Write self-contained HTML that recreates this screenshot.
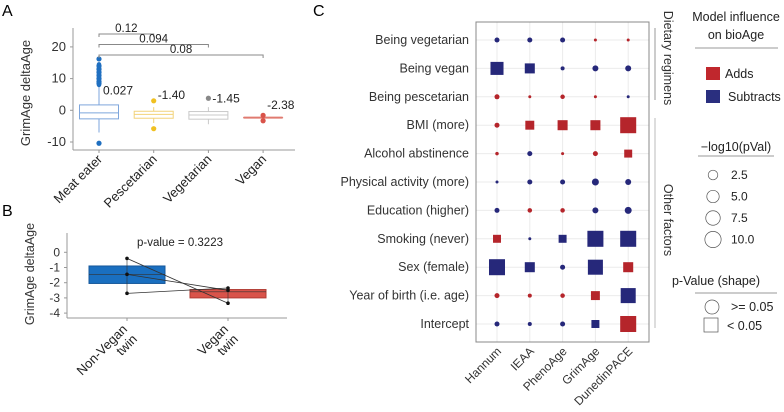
<!DOCTYPE html>
<html><head><meta charset="utf-8"><style>
body{margin:0;background:#fff}
svg{display:block;font-family:"Liberation Sans",sans-serif}
</style></head><body>
<svg id="fig" width="784" height="412" viewBox="0 0 784 412">
<text x="2" y="16" font-size="16">A</text>
<text x="2" y="216" font-size="16">B</text>
<text x="313" y="16" font-size="16">C</text>
<g id="pa"></g>
<g id="pb"></g>
<g id="pc"></g>
<g id="leg"></g>
</svg>
<script>
// Panel A data
const aCats=["Meat eater","Pescetarian","Vegetarian","Vegan"];
const aQ1=[-2.7,-2.5,-2.8,-2.3];
const aMed=[-0.8,-1.3,-1.5,-2.3];
const aQ3=[1.7,-0.3,-0.4,-2.3];
const aLo=[-7,-4,-4.4,-2.3];
const aHi=[8,1,1,-2.3];
const aOut=[[16.2,14,13,12,11,10,9,8.5,-10.4],[3,-5.8],[3.8],[-1.6,-3.3]];
const aMeans=["0.027","-1.40","-1.45","-2.38"];
const aMeanY=[4,2.6,1.5,-0.6];
const aPvals=["0.12","0.094","0.08"];
const aYTicks=[20,10,0,-10];
// Panel B data
const bCats=[["Non-Vegan","twin"],["Vegan","twin"]];
const bQ1=[-2.05,-3.0];
const bMed=[-1.45,-2.6];
const bQ3=[-0.9,-2.45];
const bNon=[-0.4,-1.45,-2.7];
const bVeg=[-3.35,-2.5,-2.35];
const bYTicks=[0,-1,-2,-3,-4];
// Panel C data
const cRows=["Being vegetarian","Being vegan","Being pescetarian","BMI (more)","Alcohol abstinence","Physical activity (more)","Education (higher)","Smoking (never)","Sex (female)","Year of birth (i.e. age)","Intercept"];
const cCols=["Hannum","IEAA","PhenoAge","GrimAge","DunedinPACE"];
const cLogP=[
[0.23,0.23,0.23,0,0],
[5.7,2.8,0.06,0.51,0.51],
[0.23,0,0.13,0,0],
[0.23,2.0,2.8,2.8,9.6],
[0.014,0.23,0,0.23,1.4],
[0,0.23,0.23,0.9,0.51],
[0.23,0.13,0.13,0.51,0.9],
[1.4,0,1.4,9.6,9.6],
[9.6,2.8,0.23,8.2,2.8],
[0.23,0.06,0.13,2.0,8.2],
[0.23,0.06,0.23,1.4,9.6]];
const cSign=[
[-1,-1,-1,1,1],
[-1,-1,-1,-1,-1],
[1,1,1,1,-1],
[1,1,1,1,1],
[1,-1,1,1,1],
[-1,-1,-1,-1,-1],
[-1,1,1,-1,-1],
[1,-1,-1,-1,-1],
[-1,-1,-1,-1,1],
[1,1,1,1,-1],
[-1,-1,-1,-1,1]];
const legSizes=[2.5,5.0,7.5,10.0];

const NS="http://www.w3.org/2000/svg";
function mk(p,tag,at,txt){const e=document.createElementNS(NS,tag);for(const k in at)e.setAttribute(k,at[k]);if(txt!==undefined)e.textContent=txt;p.appendChild(e);return e;}

// ---- Panel A
const pa=document.getElementById('pa');
const ay=v=>110.3-v*3.17;
const ax=i=>99+i*54.7;
let e;
e=mk(pa,'line',{x1:73,y1:28,x2:73,y2:150,stroke:'#999'});

e=mk(pa,'line',{x1:73,y1:150,x2:295,y2:150,stroke:'#999'});

aYTicks.forEach(t=>{mk(pa,'line',{x1:70,x2:73,y1:ay(t),y2:ay(t),stroke:'#999'});
 e=mk(pa,'text',{x:66,y:ay(t)+4,'font-size':13,'text-anchor':'end',fill:'#333'},t);
 });
e=mk(pa,'text',{x:0,y:0,'font-size':13,'text-anchor':'middle',fill:'#333',transform:'translate(30,93) rotate(-90)'},'GrimAge deltaAge');

const aStroke=['#7ea6dc','#f2d27a','#c8c8c8','#e07b70'];
const aPt=['#1f6fc0','#f0c020','#888','#d9534a'];
aCats.forEach((c,i)=>{const x=ax(i);
 mk(pa,'line',{x1:x,x2:x,y1:ay(aHi[i]),y2:ay(aLo[i]),stroke:aStroke[i]});
 e=mk(pa,'rect',{x:x-19.5,y:ay(aQ3[i]),width:39,height:Math.max(0.1,ay(aQ1[i])-ay(aQ3[i])),fill:'#fff',stroke:aStroke[i]});
 
 mk(pa,'line',{x1:x-19.5,x2:x+19.5,y1:ay(aMed[i]),y2:ay(aMed[i]),stroke:aStroke[i],'stroke-width':i==3?2:1});
 aOut[i].forEach(v=>{e=mk(pa,'circle',{cx:x,cy:ay(v),r:2.6,fill:aPt[i]});
  });
 mk(pa,'line',{x1:x,x2:x,y1:150,y2:153,stroke:'#999'});
 e=mk(pa,'text',{x:x+4,y:ay(aMeanY[i])-3,'font-size':12,fill:'#222'},aMeans[i]);
 
 e=mk(pa,'text',{x:0,y:0,'font-size':13,'text-anchor':'end',fill:'#222',transform:`translate(${x+4},160) rotate(-45)`},c);
 
});
mk(pa,'line',{x1:ax(0),x2:ax(0),y1:ay(14.5),y2:ay(8),stroke:aPt[0],'stroke-width':4.5,'stroke-linecap':'round'});
aPvals.forEach((p,k)=>{const yy=34+k*10.5;const x2=ax(k+1);
 mk(pa,'path',{d:`M${ax(0)},${yy+3}V${yy}H${x2}V${yy+3}`,fill:'none',stroke:'#888'});
 e=mk(pa,'text',{x:(ax(0)+x2)/2,y:yy-2,'font-size':11.5,'text-anchor':'middle',fill:'#222'},p);
 });

// ---- Panel B
const pb=document.getElementById('pb');
const by=v=>252.3-v*15.2;
const bx=i=>127+i*101;
mk(pb,'line',{x1:67,y1:233,x2:67,y2:318,stroke:'#999'});
mk(pb,'line',{x1:67,y1:318,x2:287,y2:318,stroke:'#999'});
bYTicks.forEach(t=>{mk(pb,'line',{x1:64,x2:67,y1:by(t),y2:by(t),stroke:'#999'});
 e=mk(pb,'text',{x:60,y:by(t)+4,'font-size':12,'text-anchor':'end',fill:'#333'},t);
 });
e=mk(pb,'text',{x:0,y:0,'font-size':12.5,'text-anchor':'middle',fill:'#333',transform:'translate(34,274) rotate(-90)'},'GrimAge deltaAge');

const bFill=['#1a6fc0','#d9534a'],bStr=['#16579a','#b23b33'];
bCats.forEach((c,i)=>{const x=bx(i);
 e=mk(pb,'rect',{x:x-38,y:by(bQ3[i]),width:76,height:by(bQ1[i])-by(bQ3[i]),fill:bFill[i],stroke:bStr[i]});
 
 mk(pb,'line',{x1:x-38,x2:x+38,y1:by(bMed[i]),y2:by(bMed[i]),stroke:'#333','stroke-width':0.6});
 mk(pb,'line',{x1:x,x2:x,y1:318,y2:321,stroke:'#999'});
 e=mk(pb,'text',{x:0,y:0,'font-size':13,'text-anchor':'end',fill:'#222',transform:`translate(${x+1},330) rotate(-45)`});
 
 mk(e,'tspan',{x:0,dy:0},c[0]);mk(e,'tspan',{x:0,dy:14},c[1]);
});
mk(pb,'line',{x1:bx(0),x2:bx(0),y1:by(bNon[0]),y2:by(bNon[2]),stroke:'#333','stroke-width':0.6});
mk(pb,'line',{x1:bx(1),x2:bx(1),y1:by(bVeg[2]),y2:by(bVeg[0]),stroke:'#333','stroke-width':0.6});
bNon.forEach((v,k)=>{
 e=mk(pb,'line',{x1:bx(0),y1:by(v),x2:bx(1),y2:by(bVeg[k]),stroke:'#333','stroke-width':0.8});
 
 mk(pb,'circle',{cx:bx(0),cy:by(v),r:1.8,fill:'#111'});
 mk(pb,'circle',{cx:bx(1),cy:by(bVeg[k]),r:1.8,fill:'#111'});});
e=mk(pb,'text',{x:180,y:246,'font-size':11.5,'text-anchor':'middle',fill:'#222'},'p-value = 0.3223');


// ---- Panel C
const pc=document.getElementById('pc');
const cx=j=>497+j*32.8;
const cy=i=>40+i*28.4;
const dia=v=>3+4.2*Math.sqrt(v);
const RED='#b5252b',BLUE='#26287a';
cCols.forEach((c,j)=>{mk(pc,'line',{x1:cx(j),x2:cx(j),y1:22,y2:342,stroke:'#ebebeb'});
 e=mk(pc,'text',{x:0,y:0,'font-size':12,'text-anchor':'end',fill:'#333',transform:`translate(${cx(j)+5},352) rotate(-45)`},c);
 });
cRows.forEach((r,i)=>{mk(pc,'line',{x1:476,x2:649,y1:cy(i),y2:cy(i),stroke:'#ebebeb'});
 e=mk(pc,'text',{x:469,y:cy(i)+4,'font-size':12.5,'text-anchor':'end',fill:'#333'},r);
 });
mk(pc,'rect',{x:476,y:22,width:173,height:320,fill:'none',stroke:'#888'});
cLogP.forEach((row,i)=>row.forEach((v,j)=>{const d=dia(v),col=cSign[i][j]>0?RED:BLUE;
 if(v>1.3){e=mk(pc,'rect',{x:cx(j)-d/2,y:cy(i)-d/2,width:d,height:d,fill:col});}
 else{e=mk(pc,'circle',{cx:cx(j),cy:cy(i),r:d/2,fill:col});}
 }));
mk(pc,'line',{x1:655,x2:655,y1:28,y2:100,stroke:'#999'});
mk(pc,'line',{x1:655,x2:655,y1:118,y2:328,stroke:'#bbb'});
e=mk(pc,'text',{x:0,y:0,'font-size':12.5,'text-anchor':'middle',fill:'#333',transform:'translate(664,58) rotate(90)'},'Dietary regimens');

e=mk(pc,'text',{x:0,y:0,'font-size':12.5,'text-anchor':'middle',fill:'#333',transform:'translate(664,220) rotate(90)'},'Other factors');


// ---- Legend
const lg=document.getElementById('leg');
const T=(x,y,s,t,a)=>mk(lg,'text',{x:x,y:y,'font-size':s,'text-anchor':a||'start',fill:'#222'},t);
T(736,21,12.5,'Model influence','middle');T(736,39,12.5,'on bioAge','middle');
mk(lg,'line',{x1:695,x2:778,y1:48,y2:48,stroke:'#999'});
e=mk(lg,'rect',{x:706,y:67,width:14,height:13,fill:'#c0272d'});

T(725,78,12.5,'Adds');
e=mk(lg,'rect',{x:706,y:90,width:14,height:13,fill:'#2a2f7f'});

T(728,101,12.5,'Subtracts');
T(736,151,12.5,'\u2212log10(pVal)','middle');
mk(lg,'line',{x1:698,x2:774,y1:156,y2:156,stroke:'#999'});
legSizes.forEach((s,k)=>{const yy=175+k*21.5;
 e=mk(lg,'circle',{cx:713,cy:yy,r:dia(s)/2,fill:'none',stroke:'#555','stroke-width':0.7});
 
 T(731,yy+4,12,s.toFixed(1));});
T(716,285,12.5,'p-Value (shape)','middle');
mk(lg,'line',{x1:695,x2:777,y1:293,y2:293,stroke:'#999'});
mk(lg,'circle',{cx:712,cy:307,r:7,fill:'none',stroke:'#555','stroke-width':0.7});
T(731,311,12.5,'>= 0.05');
mk(lg,'rect',{x:704,y:318,width:14,height:14,fill:'none',stroke:'#555','stroke-width':0.7});
T(727,330,12.5,'< 0.05');
</script>
</body></html>
